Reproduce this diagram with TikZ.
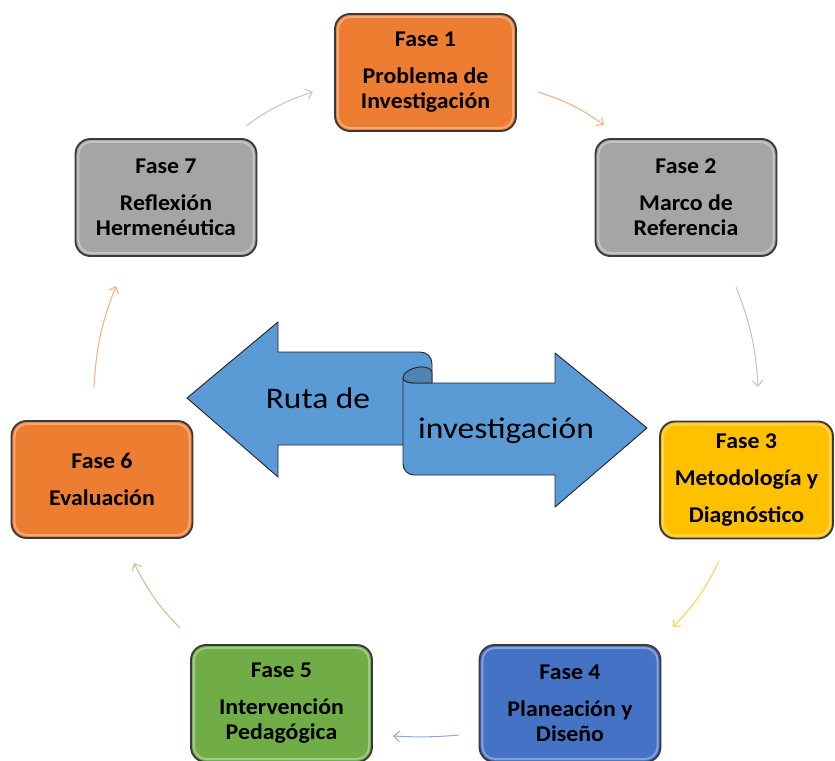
\documentclass[tikz,border=0pt]{standalone}
\usepackage{fontspec}
\setmainfont{Carlito}
\newfontfamily\widefont[FakeStretch=1.12]{Carlito}
\newfontfamily\phasefont[FakeStretch=1.06]{Carlito}
\usetikzlibrary{arrows.meta}

\definecolor{phaseorange}{HTML}{ED7D31}
\definecolor{phasegray}{HTML}{A5A5A5}
\definecolor{phasegold}{HTML}{FFC000}
\definecolor{phaseblue}{HTML}{4472C4}
\definecolor{phasegreen}{HTML}{70AD47}
\definecolor{boxedge}{HTML}{3A3A3A}
\definecolor{bannerfill}{HTML}{5B9BD5}
\definecolor{bannercurl}{HTML}{4F83B4}
\definecolor{bannerline}{HTML}{262626}
\definecolor{linkorange}{HTML}{F4B183}
\definecolor{linkgray}{HTML}{C4C4C4}
\definecolor{linkgold}{HTML}{FFD34D}
\definecolor{linkblue}{HTML}{8FAADC}
\definecolor{linkgreen}{HTML}{A9D18E}

\tikzset{
  phasebox/.style={
    draw=boxedge, line width=1.6pt, rounded corners=0.45cm,
    minimum width=5.43cm, minimum height=3.51cm, inner sep=0pt,
    align=center, text=black,
    font=\phasefont\bfseries\fontsize{19.2}{21.3}\selectfont,
    path picture={
      \draw[white, opacity=0.35, line width=1.6pt, rounded corners=0.38cm]
        ([shift={(2.5pt,-2.5pt)}]path picture bounding box.north west)
        rectangle
        ([shift={(-2.5pt,2.5pt)}]path picture bounding box.south east);
    }
  },
  ringlink/.style={line width=0.9pt, bend left=9,
    -{Straight Barb[length=5pt,width=9pt]}},
  banner/.style={fill=bannerfill, draw=bannerline, line width=0.8pt,
    line join=round},
  bannertext/.style={font=\widefont\fontsize{25.5}{30}\selectfont,
    text=black, inner sep=0pt, anchor=base}
}

\begin{document}
\begin{tikzpicture}[x=0.03cm, y=-0.03cm]
  \useasboundingbox (0,0) rectangle (835,761);

  % central two-way banner
  \path[banner] (187,398) -- (278,322) -- (278,352) -- (420,352)
    .. controls (427,352) and (432,357) .. (432,364)
    -- (432,445) -- (278,445) -- (278,477) -- cycle;
  \path[banner] (403,378) -- (403,464)
    .. controls (403,470) and (408,475) .. (414,475)
    -- (555,475) -- (555,507) -- (647,428) -- (555,353) -- (555,383)
    -- (414,383) .. controls (408,383) and (403,381) .. (403,378) -- cycle;
  \path[banner, fill=bannercurl] (403,378)
    .. controls (403,368) and (429,362) .. (432,372)
    -- (432,383) -- (414,383)
    .. controls (408,383) and (403,381) .. (403,378) -- cycle;
  \node[bannertext] (ruta) at (318,408) {Ruta de};
  \node[bannertext] (inv) at (506,438) {investigación};

  % phases
  \node[phasebox, fill=phaseorange] (f1) at (425.5,72.5)
    {Fase 1\\[10.3pt]Problema de\\Investigación};
  \node[phasebox, fill=phasegray] (f2) at (686,197.5)
    {Fase 2\\[10.3pt]Marco de\\Referencia};
  \node[phasebox, fill=phasegold, minimum width=5.19cm] (f3) at (746.5,480)
    {Fase 3\\[10.3pt]Metodología y\\[10.3pt]Diagnóstico};
  \node[phasebox, fill=phaseblue] (f4) at (570,703.5)
    {Fase 4\\[10.3pt]Planeación y\\Diseño};
  \node[phasebox, fill=phasegreen] (f5) at (281.5,703.5)
    {Fase 5\\[10.3pt]Intervención\\Pedagógica};
  \node[phasebox, fill=phaseorange] (f6) at (102,479.5)
    {Fase 6\\[10.3pt]Evaluación};
  \node[phasebox, fill=phasegray] (f7) at (166,197.5)
    {Fase 7\\[10.3pt]Reflexión\\Hermenéutica};

  % ends of the ring connectors
  \coordinate (l12s) at (538,92);  \coordinate (l12e) at (604,125);
  \coordinate (l23s) at (736,287); \coordinate (l23e) at (758,387);
  \coordinate (l34s) at (719,561); \coordinate (l34e) at (673,627);
  \coordinate (l45s) at (459,735); \coordinate (l45e) at (393,736);
  \coordinate (l56s) at (180,628); \coordinate (l56e) at (134,563);
  \coordinate (l67s) at (94,387);  \coordinate (l67e) at (116,286);
  \coordinate (l71s) at (246,126); \coordinate (l71e) at (313,92);

  \draw[ringlink, linkorange] (l12s) to (l12e);
  \draw[ringlink, linkgray]   (l23s) to (l23e);
  \draw[ringlink, linkgold]   (l34s) to (l34e);
  \draw[ringlink, linkblue, bend left=4] (l45s) to (l45e);
  \draw[ringlink, linkgreen]  (l56s) to (l56e);
  \draw[ringlink, linkorange] (l67s) to (l67e);
  \draw[ringlink, linkgray]   (l71s) to (l71e);
\end{tikzpicture}
\end{document}
